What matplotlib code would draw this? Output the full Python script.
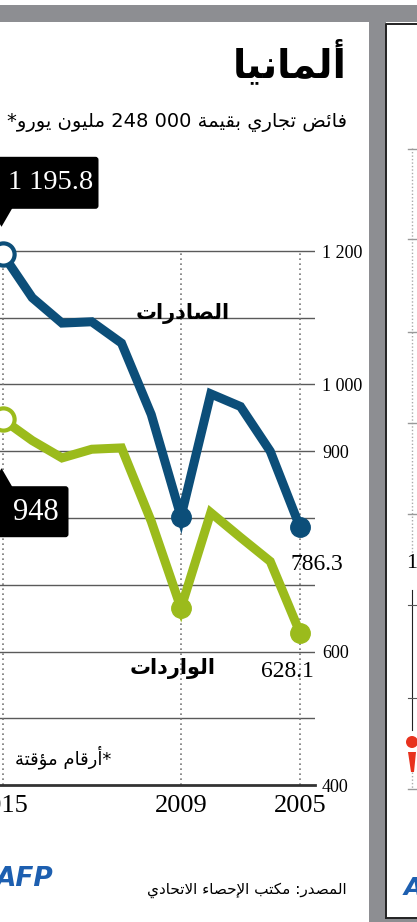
import re
import matplotlib
matplotlib.use("Agg")
import matplotlib.pyplot as plt
from matplotlib.patches import Rectangle, FancyBboxPatch, Polygon, Circle

##############################################################################

# Data (German trade, billion euro)

years = [2015, 2014, 2013, 2012, 2011, 2010, 2009, 2008, 2007, 2006, 2005]
exports = [1195.8, 1130, 1092, 1094, 1062, 955, 802, 986, 967, 900, 786.3]
imports = [948, 916, 890, 903, 905, 795, 665, 808, 771, 735, 628.1]

ytick_vals = [1200, 1000, 900, 600, 400]
ytick_labels = ["1 200", "1 000", "900", "600", "400"]
grid_levels = [500, 600, 700, 800, 900, 1000, 1100, 1200]
year_ticks = [2015, 2009, 2005]

title = "ألمانيا"
subtitle = "فائض تجاري بقيمة 000 248 مليون يورو*"
lab_exports = "الصادرات"
lab_imports = "الواردات"
note = "*أرقام مؤقتة"
source = "المصدر: مكتب الإحصاء الاتحادي"

##############################################################################

# Minimal Arabic shaping (matplotlib has no complex text layout)

DUAL = {0x0626: 0xFE89, 0x0628: 0xFE8F, 0x062A: 0xFE95, 0x062B: 0xFE99,
        0x062C: 0xFE9D, 0x062D: 0xFEA1, 0x062E: 0xFEA5, 0x0633: 0xFEB1,
        0x0634: 0xFEB5, 0x0635: 0xFEB9, 0x0636: 0xFEBD, 0x0637: 0xFEC1,
        0x0638: 0xFEC5, 0x0639: 0xFEC9, 0x063A: 0xFECD, 0x0641: 0xFED1,
        0x0642: 0xFED5, 0x0643: 0xFED9, 0x0644: 0xFEDD, 0x0645: 0xFEE1,
        0x0646: 0xFEE5, 0x0647: 0xFEE9, 0x064A: 0xFEF1}
RIGHT = {0x0622: 0xFE81, 0x0623: 0xFE83, 0x0624: 0xFE85, 0x0625: 0xFE87,
         0x0627: 0xFE8D, 0x0629: 0xFE93, 0x062F: 0xFEA9, 0x0630: 0xFEAB,
         0x0631: 0xFEAD, 0x0632: 0xFEAF, 0x0648: 0xFEED, 0x0649: 0xFEEF}
NONE = {0x0621: 0xFE80}
LAMALEF = {0x0622: 0xFEF5, 0x0623: 0xFEF7, 0x0625: 0xFEF9, 0x0627: 0xFEFB}


def shape(text):
    cs = [ord(c) for c in text]
    out = []
    i = 0
    while i < len(cs):
        c = cs[i]
        prev = i > 0 and cs[i-1] in DUAL
        if c == 0x0644 and i+1 < len(cs) and cs[i+1] in LAMALEF:
            out.append(chr(LAMALEF[cs[i+1]] + (1 if prev else 0)))
            i += 2
            continue
        nxt = i+1 < len(cs) and (cs[i+1] in DUAL or cs[i+1] in RIGHT)
        if c in DUAL:
            off = (3 if nxt else 1) if prev else (2 if nxt else 0)
            out.append(chr(DUAL[c] + off))
        elif c in RIGHT:
            out.append(chr(RIGHT[c] + (1 if prev else 0)))
        elif c in NONE:
            out.append(chr(NONE[c]))
        else:
            out.append(chr(c))
        i += 1
    return "".join(out)


def ar(text):
    s = shape(text)[::-1]
    return re.sub(r"[0-9]+", lambda m: m.group(0)[::-1], s)

##############################################################################

# Figure

W, H = 417, 922
blue = "#0c4e79"
green = "#9bbb1c"
gray = "#8d8e92"
grid = "#5a5a5a"
serif = ["Liberation Serif", "DejaVu Serif"]
arab = ["DejaVu Sans"]
plt.rcParams["font.family"] = serif

fig = plt.figure(figsize=(W/100, H/100), dpi=100)
fig.patch.set_facecolor("white")

# chart area in pixels: x 0..315, y 230..785 (400 at the bottom line)
ppu = 0.6675  # pixels per billion euro
ytop, ybot, xr = 230, 785, 315
ax = fig.add_axes([0, 1-ybot/H, xr/W, (ybot-ytop)/H])
ax.set_ylim(400, 400 + (ybot-ytop)/ppu)
ax.set_xlim(2015 + 2.5/29.75, 2005 - 15/29.75)

for lev in grid_levels:
    ax.axhline(lev, color=grid, lw=1.0, zorder=1)
ax.vlines(year_ticks, 400, 1200, color="#777777", lw=1.2,
          linestyles=(0, (1, 2)), zorder=1)

for s in ["top", "left", "right"]:
    ax.spines[s].set_visible(False)
ax.spines["bottom"].set_color("#333333")
ax.spines["bottom"].set_linewidth(2)

ax.yaxis.tick_right()
ax.set_yticks(ytick_vals, ytick_labels)
ax.set_xticks(year_ticks, [str(y) for y in year_ticks])
ax.tick_params(axis="y", length=0, pad=5, labelsize=13)
ax.tick_params(axis="x", length=0, pad=7, labelsize=19)

for vals, col in [(exports, blue), (imports, green)]:
    ax.plot(years, vals, color=col, lw=6.5, solid_joinstyle="miter",
            zorder=3, clip_on=False)
    ax.plot([years[6], years[10]], [vals[6], vals[10]], "o", ms=14,
            color=col, zorder=4, clip_on=False)
    ax.plot(years[0], vals[0], "o", ms=16, mfc="white", mec=col, mew=3,
            zorder=5, clip_on=False)

ax.annotate("786.3", (years[10], exports[10]), xytext=(12, -27),
            textcoords="offset points", ha="center", va="center",
            fontsize=17)
ax.annotate("628.1", (years[10], imports[10]), xytext=(-9, -28),
            textcoords="offset points", ha="center", va="center",
            fontsize=17)

# pixel overlay for frames, titles, callouts
pax = fig.add_axes([0, 0, 1, 1], zorder=5)
pax.set_xlim(0, W)
pax.set_ylim(H, 0)
pax.axis("off")


def to_px(x, y):
    dx, dy = ax.transData.transform((x, y))
    return dx, H - dy


# frame around the panel
pax.add_patch(Rectangle((0, 5), W, 17, color=gray, lw=0))
pax.add_patch(Rectangle((369, 5), 17, H, color=gray, lw=0))
pax.add_patch(Rectangle((386, 918), 31, 5, color=gray, lw=0))
pax.plot([386.5, 386.5, W], [918, 24, 24], color="#222222", lw=1.4)
pax.plot([386.5, W], [918, 918], color="#222222", lw=1.4)

# neighbouring panel fragment
pax.plot([412, 412], [148, 560], color="#aaaaaa", lw=1, ls=(0, (1, 1.5)))
for yy in [149, 239, 332, 423, 514]:
    pax.plot([408, 417], [yy, yy], color="#999999", lw=1)
pax.text(412, 563, "1", ha="center", va="center", fontsize=16)
pax.plot([412, 412], [590, 730], color="#222222", lw=0.8)
for yy in [605, 698]:
    pax.plot([408, 417], [yy, yy], color="#555555", lw=0.8)
pax.add_patch(Circle((412, 742), 6, color="#e8321e", lw=0))
pax.add_patch(Polygon([[408, 752], [416, 752], [414, 772], [411, 772]],
                      color="#e8321e", lw=0))
pax.plot([412, 412], [772, 789], color="#aaaaaa", lw=1, ls=(0, (1, 1.5)))
pax.plot([408, 417], [789, 789], color="#999999", lw=1)
pax.text(404, 888, "A", ha="left", va="center", fontsize=18,
         fontweight="bold", fontstyle="italic", color="#1d5fb0",
         family=["DejaVu Sans"])

# titles
pax.text(347, 62, ar(title), ha="right", va="center", fontsize=28,
         fontweight="bold", family=arab)
pax.text(347, 122, ar(subtitle), ha="right", va="center", fontsize=14,
         family=arab)

# series labels
pax.text(183, 313, ar(lab_exports), ha="center", va="center", fontsize=15,
         fontweight="bold", family=arab)
pax.text(173, 668, ar(lab_imports), ha="center", va="center", fontsize=15,
         fontweight="bold", family=arab)

# callouts for 2015 values
bx, by = to_px(years[0], exports[0])
pax.add_patch(FancyBboxPatch((bx-12, by-97), 108, 52,
                             boxstyle="round,pad=0,rounding_size=3",
                             fc="black", ec="none"))
pax.add_patch(Polygon([[bx-12, by-46], [bx+10, by-46], [bx-1, by-27]],
                      fc="black", ec="none"))
pax.text(bx+48, by-71, "1 195.8", ha="center", va="center", fontsize=20.5,
         color="white")

gx, gy = to_px(years[0], imports[0])
pax.add_patch(FancyBboxPatch((gx-12, gy+67), 78, 51,
                             boxstyle="round,pad=0,rounding_size=3",
                             fc="black", ec="none"))
pax.add_patch(Polygon([[gx-12, gy+68], [gx+10, gy+68], [gx-1, gy+49]],
                      fc="black", ec="none"))
pax.text(gx+33, gy+93, "948", ha="center", va="center", fontsize=22,
         color="white")

# footnote, source and logo
pax.text(15, 757, ar(note), ha="left", va="center", fontsize=13,
         family=arab)
pax.text(347, 890, ar(source), ha="right", va="center", fontsize=11,
         family=arab)
pax.text(53, 879, "AFP", ha="right", va="center", fontsize=19,
         fontweight="bold", fontstyle="italic", color="#1d5fb0",
         family=["DejaVu Sans"])

fig.savefig("out.png", dpi=100)
